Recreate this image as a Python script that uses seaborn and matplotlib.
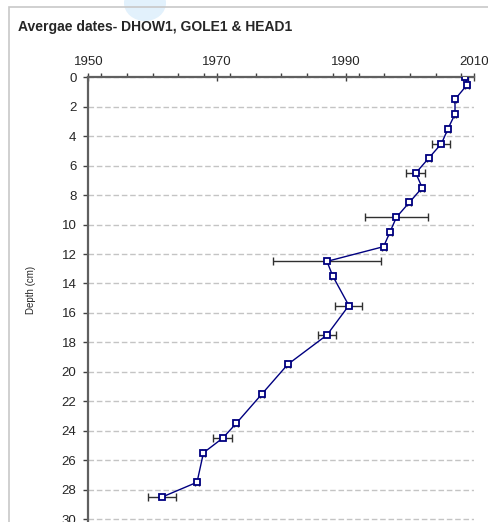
import matplotlib
matplotlib.use("Agg")
import matplotlib.pyplot as plt
from matplotlib.patches import Rectangle, Ellipse
from matplotlib.ticker import MultipleLocator
import seaborn as sns
import pandas as pd

# Mean core dates by depth slice
depth_cm = [0, 0.5, 1.5, 2.5, 3.5, 4.5, 5.5, 6.5, 7.5, 8.5, 9.5, 10.5, 11.5,
            12.5, 13.5, 15.5, 17.5, 19.5, 21.5, 23.5, 24.5, 25.5, 27.5, 28.5]
mean_year = [2008.6, 2008.9, 2007.0, 2007.0, 2005.9, 2004.9, 2002.9, 2000.9,
             2001.9, 1999.9, 1997.9, 1996.9, 1995.9, 1987.1, 1988.0, 1990.5,
             1987.1, 1981.0, 1977.0, 1973.0, 1970.9, 1967.9, 1966.9, 1961.5]
year_err = [0.4, 0.3, 0.2, 0.2, 0.3, 1.4, 0.3, 1.5, 0.3, 0.3, 4.9, 0.3, 0.3,
            8.4, 0.3, 2.1, 1.4, 0.3, 0.3, 0.3, 1.5, 0.3, 0.3, 2.2]
year_ticks = [1950, 1970, 1990, 2010]

df = pd.DataFrame({"year": mean_year, "depth": depth_cm, "err": year_err})

sns.set_style("white")
plt.rcParams["font.family"] = ["Liberation Sans", "DejaVu Sans"]

W, H = 488, 522
fig = plt.figure(figsize=(W / 100, H / 100), dpi=100)

# chart area backdrop
fig.patches.append(Ellipse((145 / W, 1 - 3 / H), 42 / W, 36 / H,
                           transform=fig.transFigure, facecolor="#e2f1fc",
                           edgecolor="none", zorder=0))
fig.patches.append(Rectangle((8.5 / W, -0.05), 1.2, 1 - 7 / H + 0.05,
                             transform=fig.transFigure, facecolor="none",
                             edgecolor="#c8c8c8", linewidth=1.2, zorder=1))

ax = fig.add_axes([88.3 / W, 0.0, (474.3 - 88.3) / W, (522 - 77.3) / H])
ax.set_facecolor("none")

ax.errorbar(df["year"], df["depth"], xerr=df["err"], fmt="none",
            ecolor="#303030", elinewidth=1.0, capsize=2.6, capthick=1.0,
            zorder=2)
sns.lineplot(data=df, x="year", y="depth", sort=False, estimator=None,
             ax=ax, color="#000080", linewidth=1.0, marker="s", markersize=5,
             markerfacecolor="white", markeredgecolor="#000080",
             markeredgewidth=1.3, zorder=3)

ax.set_xlim(1950, 2010)
ax.set_ylim(30.2, 0)
ax.xaxis.set_ticks_position("top")
ax.xaxis.set_label_position("top")
ax.set_xticks(year_ticks)
ax.xaxis.set_minor_locator(MultipleLocator(4))
ax.yaxis.set_major_locator(MultipleLocator(2))
ax.tick_params(axis="x", which="major", direction="inout", length=6,
               width=1, color="#404040", labelsize=9.5, pad=4)
ax.tick_params(axis="x", which="minor", direction="out", length=3,
               width=1, color="#404040", top=True, bottom=False)
ax.tick_params(axis="y", which="major", direction="out", length=3.5,
               width=1, color="#404040", labelsize=9.5, pad=5, left=True)

ax.grid(axis="y", color="#c4c4c4", linestyle=(0, (4, 2)), linewidth=1.0)
ax.grid(axis="x", visible=False)
for side in ("right", "bottom"):
    ax.spines[side].set_visible(False)
for side in ("left", "top"):
    ax.spines[side].set_color("#606060")
    ax.spines[side].set_linewidth(1.6)

ax.set_xlabel("")
ax.set_ylabel("Depth (cm)", fontsize=7, labelpad=12)
ax.yaxis.set_label_coords(-0.135, 1 - (290 - 77.3) / (522 - 77.3))

fig.text(18 / W, 1 - 27 / H, "Avergae dates- DHOW1, GOLE1 & HEAD1",
         fontsize=10, fontweight="bold", ha="left", va="center")

fig.savefig("out.png", dpi=100)
